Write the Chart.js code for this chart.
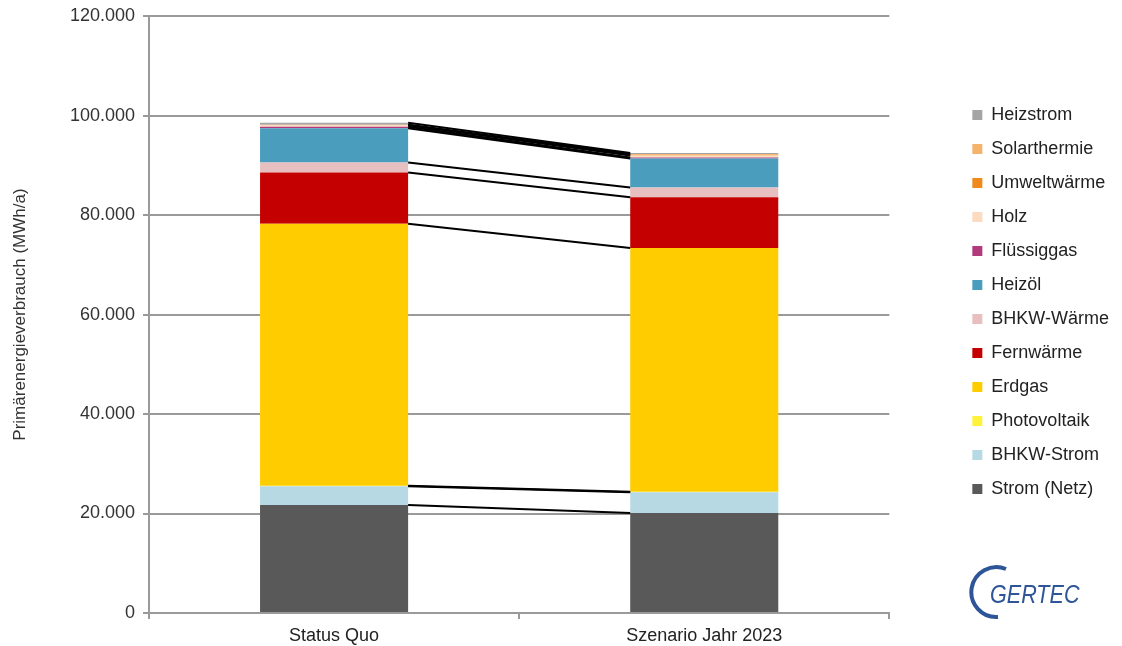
<!DOCTYPE html>
<html lang="de">
<head>
<meta charset="utf-8">
<script src="https://cdn.jsdelivr.net/npm/chart.js@4/dist/chart.umd.min.js"></script>
<style>
  html, body { margin: 0; padding: 0; background: #fff; }
  #wrap { position: relative; width: 1122px; height: 646px; }
  #logo { position: absolute; left: 968px; top: 564px; width: 130px; height: 56px; }
</style>
</head>
<body>
<div id="wrap">
  <canvas id="chart" width="1122" height="646"></canvas>
  <svg id="logo" viewBox="0 0 130 56">
    <path d="M 38 5 A 25 25 0 1 0 30 53" fill="none" stroke="#2d5597" stroke-width="4"/>
    <text x="22" y="39" font-family="Liberation Sans, Arial, sans-serif" font-style="italic" font-size="26" fill="#2d5597" transform="translate(22 0) scale(0.83 1) translate(-22 0)">GERTEC</text>
  </svg>
</div>
<script>
// Primärenergieverbrauch nach Energieträger, MWh/a
const categories = ['Status Quo', 'Szenario Jahr 2023'];

const stromNetz    = [21700, 20100];
const bhkwStrom    = [3800, 4200];
const photovoltaik = [60, 60];
const erdgas       = [52700, 49000];
const fernwaerme   = [10300, 10200];
const bhkwWaerme   = [2000, 2000];
const heizoel      = [6900, 5800];
const fluessiggas  = [300, 200];
const holz         = [300, 400];
const umweltwaerme = [60, 150];
const solarthermie = [60, 150];
const heizstrom    = [400, 200];

const yTicks = [0, 20000, 40000, 60000, 80000, 100000, 120000];

const FONT = 'Liberation Sans, Arial, sans-serif';
const GRID = '#9a9a9a';

const series = [
  { label: 'Strom (Netz)', data: stromNetz,    color: '#595959' },
  { label: 'BHKW-Strom',   data: bhkwStrom,    color: '#b7d9e3' },
  { label: 'Photovoltaik', data: photovoltaik, color: '#fff23a' },
  { label: 'Erdgas',       data: erdgas,       color: '#ffcc00' },
  { label: 'Fernwärme',    data: fernwaerme,   color: '#c50000' },
  { label: 'BHKW-Wärme',   data: bhkwWaerme,   color: '#e8bfc1' },
  { label: 'Heizöl',       data: heizoel,      color: '#4a9dbd' },
  { label: 'Flüssiggas',   data: fluessiggas,  color: '#b03a7b' },
  { label: 'Holz',         data: holz,         color: '#fbdcc0' },
  { label: 'Umweltwärme',  data: umweltwaerme, color: '#ef8a1a' },
  { label: 'Solarthermie', data: solarthermie, color: '#f5b26b' },
  { label: 'Heizstrom',    data: heizstrom,    color: '#a5a5a5' },
];

const fmt = v => String(v).replace(/\B(?=(\d{3})+(?!\d))/g, '.');

// Verbindungslinien zwischen den Oberkanten gleicher Segmente
const seriesLines = {
  id: 'seriesLines',
  afterDatasetsDraw(chart) {
    const ctx = chart.ctx;
    ctx.save();
    ctx.strokeStyle = '#000';
    ctx.lineWidth = 2;
    chart.data.datasets.forEach((ds, i) => {
      const bars = chart.getDatasetMeta(i).data;
      for (let k = 0; k < bars.length - 1; k++) {
        const a = bars[k], b = bars[k + 1];
        ctx.beginPath();
        ctx.moveTo(a.x + a.width / 2, a.y);
        ctx.lineTo(b.x - b.width / 2, b.y);
        ctx.stroke();
      }
    });
    ctx.restore();
  }
};

new Chart(document.getElementById('chart'), {
  type: 'bar',
  data: {
    labels: categories,
    datasets: series.map(s => ({
      label: s.label,
      data: s.data,
      backgroundColor: s.color,
      borderWidth: 0,
      barPercentage: 0.4,
      categoryPercentage: 1,
    })),
  },
  options: {
    responsive: false,
    animation: false,
    layout: { padding: { top: 14, right: 3, bottom: 0, left: 0 } },
    plugins: {
      tooltip: { enabled: false },
      legend: {
        position: 'right',
        align: 'start',
        reverse: true,
        title: { display: true, text: '', font: { size: 10, lineHeight: 1 }, padding: { top: 66, bottom: 0 } },
        labels: {
          boxWidth: 10,
          boxHeight: 10,
          padding: 16,
          color: '#222',
          font: { family: FONT, size: 18 },
        },
      },
    },
    scales: {
      x: {
        stacked: true,
        grid: { display: true, drawOnChartArea: false, color: GRID, lineWidth: 2, tickLength: 6 },
        border: { color: GRID, width: 2 },
        ticks: { color: '#222', padding: 6, font: { family: FONT, size: 18 } },
        afterFit: s => { s.height = 33; },
      },
      y: {
        stacked: true,
        min: 0,
        max: 120000,
        afterBuildTicks: s => { s.ticks = yTicks.map(v => ({ value: v })); },
        grid: { color: GRID, lineWidth: 2, tickLength: 6 },
        border: { color: GRID, width: 2 },
        ticks: { color: '#333', padding: 8, font: { family: FONT, size: 18, lineHeight: 0.9 }, callback: v => fmt(v) },
        title: { display: true, text: 'Primärenergieverbrauch (MWh/a)', color: '#333', font: { family: FONT, size: 17 }, padding: { top: 10, bottom: 0 } },
        afterFit: s => { s.width = 149; },
      },
      yRight: {
        position: 'right',
        display: true,
        grid: { display: false },
        border: { display: false },
        ticks: { display: false },
        afterFit: s => { s.width = 67; },
      },
    },
  },
  plugins: [seriesLines],
});
</script>
</body>
</html>
